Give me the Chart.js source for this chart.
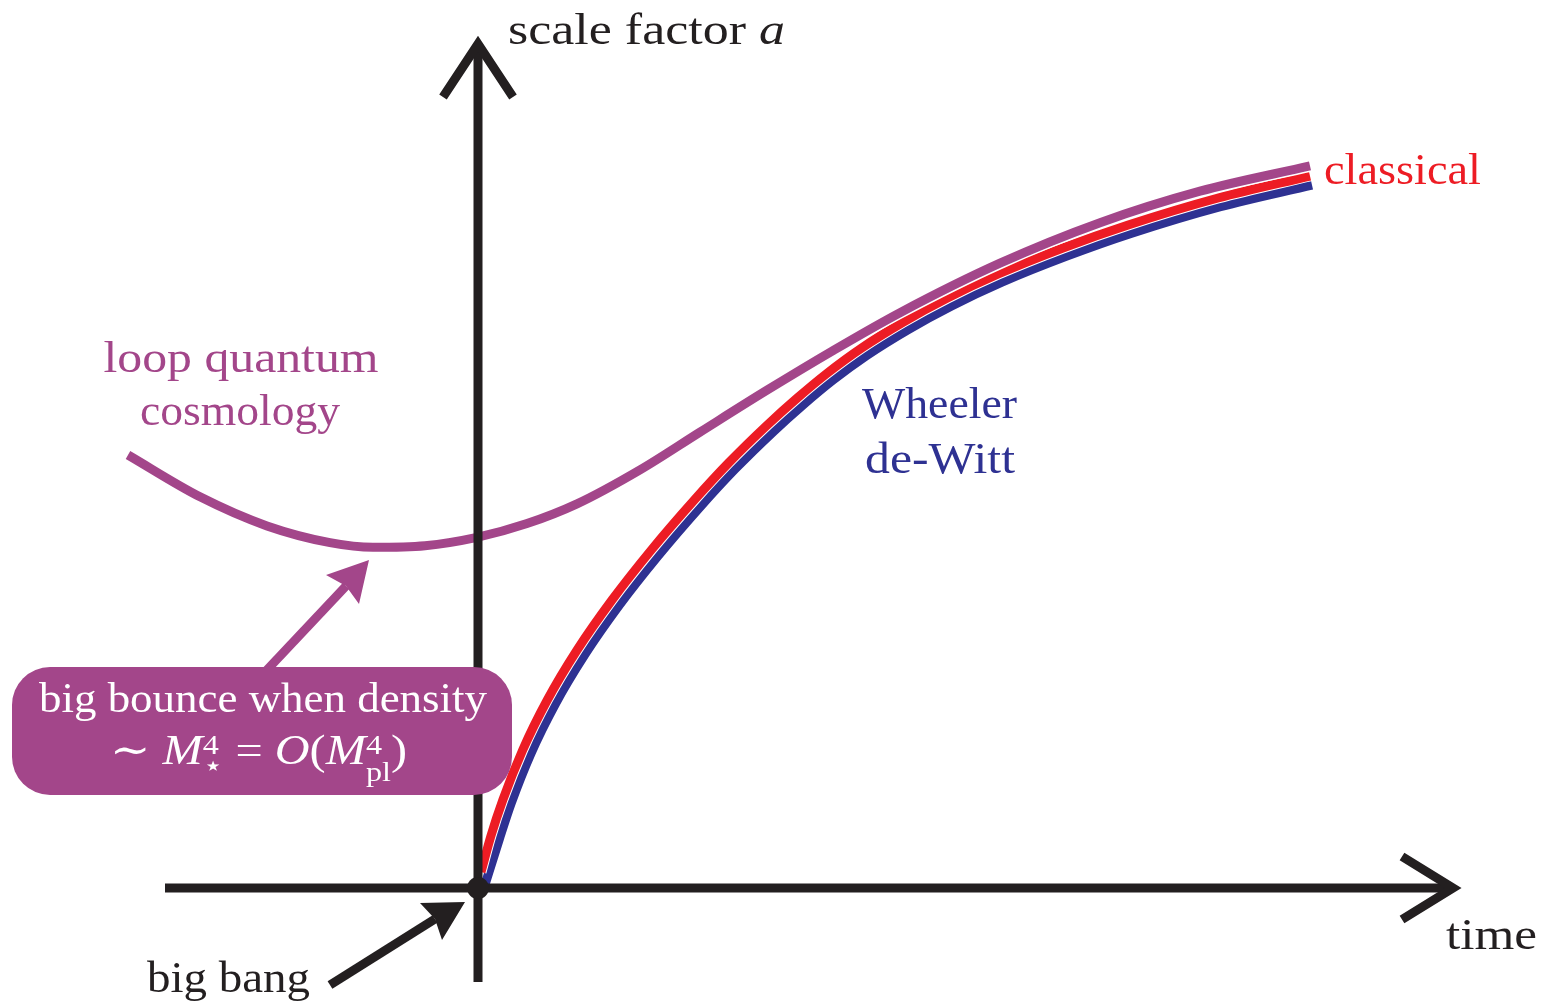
<!DOCTYPE html>
<html><head><meta charset="utf-8">
<script src="https://cdn.jsdelivr.net/npm/chart.js@4.4.1/dist/chart.umd.min.js"></script>
<style>html,body{margin:0;padding:0;background:#fff;}#wrap{width:1557px;height:1006px;position:relative;}</style>
</head><body><div id="wrap"><canvas id="c"></canvas></div>
<script>
// ---- data (time, scale factor) in arbitrary units ----
const lqcTime  = [-3.50,-2.78,-2.11,-1.48,-1.05,-0.53,-0.01,0.49,0.99,1.62,2.22,2.89,3.55,4.22,5.22,6.22,7.22,8.32];
const lqcScale = [4.33,3.912,3.621,3.454,3.407,3.423,3.506,3.644,3.841,4.181,4.559,4.978,5.374,5.753,6.248,6.653,6.968,7.221];
const classicalTime  = [0.03,0.129,0.248,0.447,0.693,0.991,1.34,1.733,2.163,2.505,2.893,3.193,3.495,3.837,4.254,4.695,5.204,5.85,6.502,7.401,8.32];
const classicalScale = [0.16,0.52,0.88,1.38,1.88,2.38,2.88,3.38,3.88,4.25,4.63,4.90,5.15,5.40,5.66,5.90,6.14,6.40,6.63,6.90,7.12];
const wdwTime  = [0.06,0.215,0.333,0.529,0.772,1.067,1.412,1.803,2.23,2.57,2.954,3.252,3.551,3.887,4.299,4.736,5.24,5.882,6.53,7.425,8.34];
const wdwScale = [0.0,0.494,0.85,1.344,1.837,2.331,2.826,3.323,3.82,4.188,4.564,4.832,5.08,5.325,5.582,5.82,6.058,6.316,6.545,6.813,7.03];

const yAxisTitle = ['scale factor ', 'a'];
const xAxisTitle = 'time';
const classicalLabel = 'classical';
const wdwLabel = ['Wheeler', 'de-Witt'];
const lqcLabel = ['loop quantum', 'cosmology'];
const bangLabel = 'big bang';
const bounceLabel = 'big bounce when density';

// ---- styles ----
const BLACK = '#231f20', PURPLE = '#a3468a', RED = '#ed1c24', BLUE = '#2e3192';
const SERIF = '"Liberation Serif","DejaVu Serif",serif';

const pts = (t, a) => t.map((v, i) => ({x: v, y: a[i]}));

// annotation placement in data units
const place = {
  vAxis: {t: 0, a0: -0.94, a1: 8.44, armA: 7.91, armT: 0.35},
  hAxis: {a: 0, t0: -3.13, t1: 9.75, armT: 9.24, armA: 0.315},
  bang: {from: [-1.48, -0.97], tip: [-0.13, -0.14], l: [-0.58, -0.15], n: [-0.43, -0.31], r: [-0.36, -0.52]},
  bounceArrow: {from: [-2.13, 2.16], tip: [-1.09, 3.28], l: [-1.52, 3.13], n: [-1.32, 3.02], r: [-1.19, 2.84]},
  box: {t0: -4.66, t1: 0.34, a0: 2.21, a1: 0.93},
  yTitle: [0.30, 8.44, 277], xTitle: [9.68, -0.61, 91],
  classical: [8.46, 7.04, 157],
  wdw1: [4.615, 4.70, 155], wdw2: [4.62, 4.15, 150],
  lqc1: [-2.37, 5.16, 275], lqc2: [-2.38, 4.63, 200],
  bangT: [-3.31, -1.04, 163],
  bounce1: [-2.15, 1.76, 448],
  bounce2: [-3.68, 1.24, 297]
};

function runs(ctx, list, px, py, align, width) {
  const ws = list.map(r => {
    ctx.font = r.font;
    if (r.sup !== undefined) return Math.max(ctx.measureText(r.sup).width, ctx.measureText(r.sub).width);
    return ctx.measureText(r.s).width;
  });
  const total = ws.reduce((p, c) => p + c, 0);
  const k = width ? width / total : 1;
  ctx.save();
  ctx.translate(px, py);
  ctx.scale(k, 1);
  let x = align === 'center' ? -total / 2 : 0;
  ctx.textAlign = 'left'; ctx.textBaseline = 'alphabetic';
  list.forEach((r, i) => {
    ctx.font = r.font;
    if (r.sup !== undefined) {
      ctx.fillText(r.sup, x, r.dyU);
      ctx.fillText(r.sub, x, r.dyD);
    } else {
      ctx.fillText(r.s, x, r.dy || 0);
    }
    x += ws[i];
  });
  ctx.restore();
}

const annot = {
  id: 'annot',
  afterDatasetsDraw(chart) {
    const {ctx, scales: {x, y}} = chart;
    const P = (t, a) => [x.getPixelForValue(t), y.getPixelForValue(a)];
    const line = (pts, w, c) => {
      ctx.beginPath(); ctx.lineWidth = w; ctx.strokeStyle = c; ctx.lineJoin = 'miter'; ctx.miterLimit = 10;
      pts.forEach((p, i) => i ? ctx.lineTo(p[0], p[1]) : ctx.moveTo(p[0], p[1])); ctx.stroke();
    };
    const poly = (pts, c) => {
      ctx.beginPath(); ctx.fillStyle = c;
      pts.forEach((p, i) => i ? ctx.lineTo(p[0], p[1]) : ctx.moveTo(p[0], p[1])); ctx.closePath(); ctx.fill();
    };
    ctx.save();
    ctx.lineCap = 'butt';
    const v = place.vAxis, h = place.hAxis;
    line([P(v.t, v.a0), P(v.t, v.a1)], 9, BLACK);
    line([P(-v.armT, v.armA), P(v.t, v.a1), P(v.armT, v.armA)], 9, BLACK);
    line([P(h.t0, h.a), P(h.t1, h.a)], 9, BLACK);
    line([P(h.armT, h.armA), P(h.t1, h.a), P(h.armT, -h.armA)], 9, BLACK);
    const b = place.bang;
    line([P(...b.from), P(...b.n)], 9, BLACK);
    poly([P(...b.tip), P(...b.l), P(...b.n), P(...b.r)], BLACK);
    const ba = place.bounceArrow;
    line([P(...ba.from), P(...ba.n)], 9, PURPLE);
    poly([P(...ba.tip), P(...ba.l), P(...ba.n), P(...ba.r)], PURPLE);
    const bx = place.box;
    const [bx0, by0] = P(bx.t0, bx.a0), [bx1, by1] = P(bx.t1, bx.a1);
    ctx.beginPath(); ctx.fillStyle = PURPLE;
    ctx.roundRect(bx0, by0, bx1 - bx0, by1 - by0, 38); ctx.fill();
    const [ox, oy] = P(0, 0);
    ctx.beginPath(); ctx.fillStyle = BLACK; ctx.arc(ox, oy, 11, 0, Math.PI * 2); ctx.fill();

    const F = s => `${s}px ${SERIF}`, FI = s => `italic ${s}px ${SERIF}`;
    const at = (k) => P(place[k][0], place[k][1]);
    ctx.fillStyle = BLACK;
    runs(ctx, [{s: yAxisTitle[0], font: F(44)}, {s: yAxisTitle[1], font: FI(44)}], ...at('yTitle'), 'left', place.yTitle[2]);
    runs(ctx, [{s: xAxisTitle, font: F(44)}], ...at('xTitle'), 'left', place.xTitle[2]);
    runs(ctx, [{s: bangLabel, font: F(44)}], ...at('bangT'), 'left', place.bangT[2]);
    ctx.fillStyle = RED;
    runs(ctx, [{s: classicalLabel, font: F(44)}], ...at('classical'), 'left', place.classical[2]);
    ctx.fillStyle = BLUE;
    runs(ctx, [{s: wdwLabel[0], font: F(44)}], ...at('wdw1'), 'center', place.wdw1[2]);
    runs(ctx, [{s: wdwLabel[1], font: F(44)}], ...at('wdw2'), 'center', place.wdw2[2]);
    ctx.fillStyle = PURPLE;
    runs(ctx, [{s: lqcLabel[0], font: F(44)}], ...at('lqc1'), 'center', place.lqc1[2]);
    runs(ctx, [{s: lqcLabel[1], font: F(44)}], ...at('lqc2'), 'center', place.lqc2[2]);
    ctx.fillStyle = '#ffffff';
    runs(ctx, [{s: bounceLabel, font: F(42)}], ...at('bounce1'), 'center', place.bounce1[2]);
    runs(ctx, [
      {s: '\u223C ', font: F(42)},
      {s: 'M', font: FI(42)},
      {sup: '4', sub: '\u22C6', font: F(28), dyU: -10, dyD: 11},
      {s: ' = ', font: F(42)},
      {s: 'O', font: FI(42)},
      {s: '(', font: F(42)},
      {s: 'M', font: FI(42)},
      {sup: '4', sub: 'pl', font: F(28), dyU: -10, dyD: 17},
      {s: ')', font: F(42)}
    ], ...at('bounce2'), 'left', place.bounce2[2]);
    ctx.restore();
  }
};

new Chart(document.getElementById('c'), {
  type: 'line',
  data: {
    datasets: [
      {data: pts(lqcTime, lqcScale), borderColor: PURPLE, borderWidth: 9},
      {data: pts(lqcTime, lqcScale), borderColor: '#ffffff', borderWidth: 12},
      {data: pts(classicalTime, classicalScale), borderColor: RED, borderWidth: 9},
      {data: pts(classicalTime, classicalScale), borderColor: '#ffffff', borderWidth: 11},
      {data: pts(wdwTime, wdwScale), borderColor: BLUE, borderWidth: 9}
    ]
  },
  options: {
    responsive: true, maintainAspectRatio: false, animation: false, devicePixelRatio: 1,
    layout: {padding: 0},
    elements: {line: {cubicInterpolationMode: 'monotone', fill: false, borderCapStyle: 'butt', borderJoinStyle: 'round'}, point: {radius: 0}},
    plugins: {legend: {display: false}, tooltip: {enabled: false}},
    scales: {
      x: {type: 'linear', min: -4.78, max: 10.79, display: false},
      y: {type: 'linear', min: -1.18, max: 8.88, display: false}
    }
  },
  plugins: [annot]
});
</script></body></html>
